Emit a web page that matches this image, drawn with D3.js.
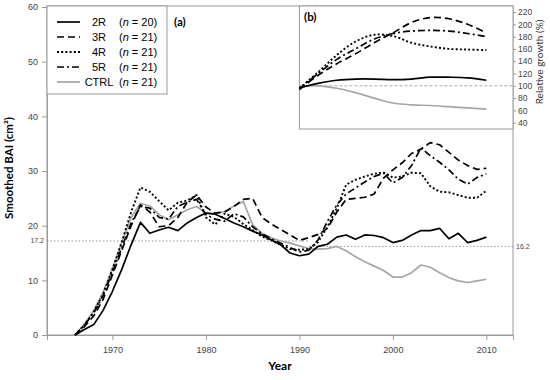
<!DOCTYPE html>
<html>
<head>
<meta charset="utf-8">
<script src="https://cdn.jsdelivr.net/npm/d3@7"></script>
<style>
  body { margin: 0; background: #fff; }
  svg { display: block; }
</style>
</head>
<body>
<div id="chart"></div>
<script>
var width = 550
var height = 380

// ---- data ----
var years = [1966, 1967, 1968, 1969, 1970, 1971, 1972, 1973, 1974, 1975, 1976, 1977, 1978, 1979,
             1980, 1981, 1982, 1983, 1984, 1985, 1986, 1987, 1988, 1989, 1990, 1991, 1992, 1993,
             1994, 1995, 1996, 1997, 1998, 1999, 2000, 2001, 2002, 2003, 2004, 2005, 2006, 2007,
             2008, 2009, 2010];

var bai2R = [0, 1.0, 1.9, 4.5, 8.0, 12.0, 16.5, 20.6, 18.6, 19.2, 19.7, 19.1, 20.5, 21.5,
             22.3, 22.1, 21.3, 20.5, 19.8, 19.0, 18.3, 17.4, 16.5, 15.0, 14.5, 14.8, 16.2, 16.6,
             17.9, 18.3, 17.5, 18.3, 18.2, 17.8, 16.9, 17.3, 18.3, 19.1, 19.1, 19.5, 17.6, 18.6,
             16.9, 17.3, 17.9];
var bai3R = [0, 1.5, 3.5, 6.5, 11.0, 15.5, 20.0, 23.8, 22.5, 19.8, 20.0, 21.5, 24.3, 25.6,
             23.4, 22.3, 22.5, 23.5, 24.8, 25.0, 21.5, 20.3, 19.3, 18.3, 17.3, 17.8, 18.4, 19.5,
             22.5, 24.8, 25.0, 25.2, 25.8, 28.7, 30.2, 31.5, 33.2, 34.0, 35.2, 34.8, 33.4, 32.0,
             31.0, 30.3, 30.5];
var bai4R = [0, 1.8, 4.2, 7.5, 12.0, 17.0, 22.5, 27.0, 26.2, 24.5, 22.8, 24.2, 24.6, 25.6,
             21.5, 20.2, 22.2, 21.6, 20.3, 19.2, 18.0, 17.3, 16.5, 15.7, 15.6, 15.7, 17.0, 19.8,
             23.2, 27.5, 28.4, 29.0, 29.5, 29.7, 28.8, 29.0, 29.7, 29.6, 27.2, 26.2, 26.1, 25.6,
             25.1, 25.1, 26.4];
var bai5R = [0, 1.8, 4.0, 7.2, 11.5, 16.0, 20.5, 23.5, 23.2, 21.5, 21.2, 23.5, 24.3, 24.8,
             22.0, 21.2, 20.8, 22.2, 21.6, 19.8, 18.5, 17.6, 16.8, 16.0, 15.2, 15.5, 17.4, 20.8,
             23.8, 25.8, 26.9, 28.0, 29.0, 29.6, 27.8, 28.8, 31.0, 34.2, 32.8, 31.6, 30.2, 28.5,
             27.6, 28.8, 29.5];
var baiCTRL = [0, 2.0, 4.5, 7.8, 12.2, 17.0, 21.5, 24.1, 23.6, 22.0, 21.1, 22.0, 22.9, 23.5,
               22.3, 22.2, 22.6, 23.6, 24.4, 20.2, 18.6, 17.8, 17.2, 16.8, 16.3, 15.8, 15.7, 15.8,
               16.2, 15.4, 14.3, 13.4, 12.6, 11.8, 10.6, 10.6, 11.4, 12.8, 12.4, 11.4, 10.5, 9.9,
               9.6, 9.9, 10.2];

// inset (b): relative growth (%)
var insetYears = [1990, 1992, 1994, 1996, 1998, 2000, 2002, 2004, 2006, 2008, 2010];
var rel2R   = [97, 104, 109, 111, 111, 110, 111, 114, 114, 113, 109];
var rel3R   = [94, 117, 136, 152, 170, 186, 203, 211, 209, 200, 186];
var rel4R   = [96, 122, 150, 172, 183, 181, 170, 164, 160, 159, 158];
var rel5R   = [95, 120, 143, 160, 176, 185, 189, 190, 189, 185, 180];
var relCTRL = [98, 100, 96, 89, 80, 72, 69, 68, 66, 64, 62];

var seriesNames = ['2R', '3R', '4R', '5R', 'CTRL'];
var seriesN = [20, 21, 21, 21, 21];

var xTicks = [1970, 1980, 1990, 2000, 2010];
var yTicks = [0, 10, 20, 30, 40, 50, 60];
var insetTicks = [40, 60, 80, 100, 120, 140, 160, 180, 200, 220];
var refBefore = 17.2;
var refAfter = 16.2;
var refSplit = 1991;

// ---- styles ----
var styles = {
  '2R':   { color: '#000', dash: null,      w: 1.7 },
  '3R':   { color: '#000', dash: '7,4',     w: 1.7 },
  '4R':   { color: '#000', dash: '2,2.2',   w: 1.9 },
  '5R':   { color: '#000', dash: '7,3,2,3', w: 1.7 },
  'CTRL': { color: '#a6a6a6', dash: null,   w: 1.7 }
};

var mainData = {
  '2R': bai2R, '3R': bai3R, '4R': bai4R, '5R': bai5R, 'CTRL': baiCTRL
};
var insetData = {
  '2R': rel2R, '3R': rel3R, '4R': rel4R, '5R': rel5R, 'CTRL': relCTRL
};

var svg = d3.select('#chart')
            .append('svg')
            .attr('width', width)
            .attr('height', height);

var mLeft = 47, mRight = 513, mTop = 6, mBottom = 335;

var x = d3.scaleLinear().domain([1963, 2012.85]).range([mLeft, mRight]);
var y = d3.scaleLinear().domain([0, 60]).range([mBottom, mTop + 1]);

var axisColor = '#9a9a9a';
var tickFont = 'Liberation Sans, Arial, sans-serif';

// frame
svg.append('rect')
   .attr('x', mLeft).attr('y', mTop)
   .attr('width', mRight - mLeft).attr('height', mBottom - mTop)
   .attr('fill', 'none')
   .attr('stroke', axisColor)
   .attr('stroke-width', 1);

// x axis
var xAxis = svg.append('g')
   .attr('transform', 'translate(0,' + mBottom + ')')
   .call(d3.axisBottom(x).tickValues(xTicks).tickFormat(d3.format('d')).tickSize(5).tickPadding(7));

// y axis
var yAxis = svg.append('g')
   .attr('transform', 'translate(' + mLeft + ',0)')
   .call(d3.axisLeft(y).tickValues(yTicks).tickSize(5).tickPadding(4));

[xAxis, yAxis].forEach(function (a) {
  a.select('.domain').attr('stroke', axisColor);
  a.selectAll('.tick line').attr('stroke', axisColor);
  a.selectAll('.tick text')
   .attr('fill', '#444')
   .style('font-family', tickFont)
   .style('font-size', '9px');
});

// reference lines (dotted)
svg.append('line')
   .attr('x1', mLeft).attr('x2', x(refSplit))
   .attr('y1', y(refBefore)).attr('y2', y(refBefore))
   .attr('stroke', '#999').attr('stroke-width', 1)
   .attr('stroke-dasharray', '1.5,2');
svg.append('line')
   .attr('x1', x(refSplit)).attr('x2', mRight + 2)
   .attr('y1', y(refAfter)).attr('y2', y(refAfter))
   .attr('stroke', '#999').attr('stroke-width', 1)
   .attr('stroke-dasharray', '1.5,2');

svg.append('text')
   .attr('x', mLeft - 3).attr('y', y(refBefore) + 2.5)
   .attr('text-anchor', 'end')
   .style('font-family', tickFont).style('font-size', '7px')
   .attr('fill', '#444')
   .text(refBefore);
svg.append('text')
   .attr('x', mRight + 3).attr('y', y(refAfter) + 2.5)
   .style('font-family', tickFont).style('font-size', '7px')
   .attr('fill', '#444')
   .text(refAfter);

// main lines
var line = d3.line()
   .x(function (d) { return x(d.year); })
   .y(function (d) { return y(d.v); });

var drawOrder = ['CTRL', '2R', '3R', '4R', '5R'];
drawOrder.forEach(function (name) {
  var pts = years.map(function (yr, i) { return { year: yr, v: mainData[name][i] }; });
  svg.append('path')
     .datum(pts)
     .attr('d', line)
     .attr('fill', 'none')
     .attr('stroke', styles[name].color)
     .attr('stroke-width', styles[name].w)
     .attr('stroke-dasharray', styles[name].dash)
     .attr('stroke-linejoin', 'round');
});

// ---- inset (b) ----
var insetLeft = x(1990), insetBottom = 129;
var yIn = d3.scaleLinear().domain([40, 220]).range([122.7, 12]);

svg.append('rect')
   .attr('x', insetLeft).attr('y', mTop)
   .attr('width', mRight - insetLeft).attr('height', insetBottom - mTop)
   .attr('fill', '#fff')
   .attr('stroke', axisColor)
   .attr('stroke-width', 1);

var inAxis = svg.append('g')
   .attr('transform', 'translate(' + mRight + ',0)')
   .call(d3.axisRight(yIn).tickValues(insetTicks).tickSize(3).tickPadding(2));
inAxis.select('.domain').remove();
inAxis.selectAll('.tick line').attr('stroke', axisColor);
inAxis.selectAll('.tick text')
   .attr('fill', '#444')
   .style('font-family', tickFont)
   .style('font-size', '8.5px');

svg.append('line')
   .attr('x1', insetLeft).attr('x2', mRight)
   .attr('y1', yIn(100)).attr('y2', yIn(100))
   .attr('stroke', '#aaa').attr('stroke-width', 1)
   .attr('stroke-dasharray', '3,2');

var inLine = d3.line()
   .curve(d3.curveCatmullRom)
   .x(function (d) { return x(d.year); })
   .y(function (d) { return yIn(d.v); });

drawOrder.forEach(function (name) {
  var pts = insetYears.map(function (yr, i) { return { year: yr, v: insetData[name][i] }; });
  svg.append('path')
     .datum(pts)
     .attr('d', inLine)
     .attr('fill', 'none')
     .attr('stroke', styles[name].color)
     .attr('stroke-width', styles[name].w)
     .attr('stroke-dasharray', styles[name].dash);
});

svg.append('text')
   .attr('transform', 'translate(543,' + 62 + ') rotate(-90)')
   .attr('text-anchor', 'middle')
   .style('font-family', 'Lato, sans-serif').style('font-size', '10px')
   .attr('fill', '#333')
   .text('Relative growth (%)');

svg.append('text')
   .attr('x', 304).attr('y', 21)
   .style('font-family', 'Lato, sans-serif').style('font-size', '11.5px')
   .style('font-weight', 'bold')
   .text('(b)');

// ---- legend ----
var legend = svg.append('g');
legend.append('rect')
   .attr('x', mLeft).attr('y', mTop)
   .attr('width', 120).attr('height', 88)
   .attr('fill', '#fff')
   .attr('stroke', axisColor);

seriesNames.forEach(function (name, i) {
  var ly = 22 + i * 15;
  legend.append('line')
     .attr('x1', 57).attr('x2', 80)
     .attr('y1', ly).attr('y2', ly)
     .attr('stroke', styles[name].color)
     .attr('stroke-width', styles[name].w)
     .attr('stroke-dasharray', styles[name].dash);
  legend.append('text')
     .attr('x', 99).attr('y', ly + 4)
     .attr('text-anchor', 'middle')
     .style('font-family', tickFont).style('font-size', '11px')
     .text(name);
  var t = legend.append('text')
     .attr('x', 119).attr('y', ly + 4)
     .style('font-family', tickFont).style('font-size', '11px');
  t.append('tspan').text('(');
  t.append('tspan').style('font-style', 'italic').text('n');
  t.append('tspan').text(' = ' + seriesN[i] + ')');
});

svg.append('text')
   .attr('x', 174).attr('y', 26)
   .style('font-family', 'Lato, sans-serif').style('font-size', '11.5px')
   .style('font-weight', 'bold')
   .text('(a)');

// axis titles
svg.append('text')
   .attr('x', 280).attr('y', 370)
   .attr('text-anchor', 'middle')
   .style('font-family', 'Lato, sans-serif').style('font-size', '12px')
   .style('font-weight', 'bold')
   .text('Year');

svg.append('text')
   .attr('transform', 'translate(13,168) rotate(-90)')
   .attr('text-anchor', 'middle')
   .style('font-family', 'Lato, sans-serif').style('font-size', '11.5px')
   .style('font-weight', 'bold')
   .text('Smoothed BAI (cm²)');
</script>
</body>
</html>
